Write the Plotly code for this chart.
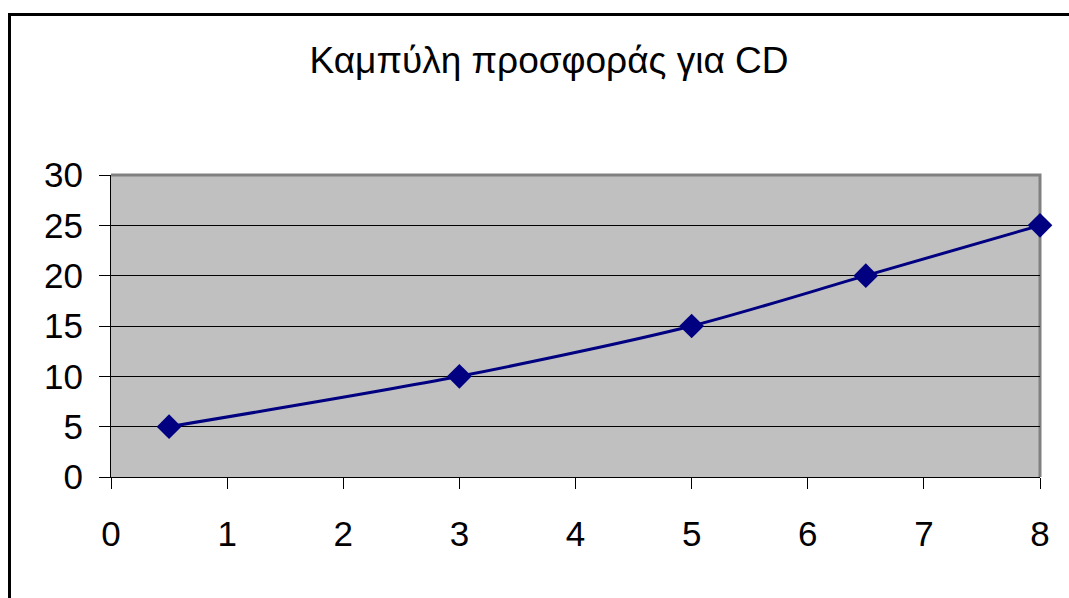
import plotly.graph_objects as go

# Supply curve for CD: quantity (x) vs price (y)
quantity = [0.5, 3, 5, 6.5, 8]
price = [5, 10, 15, 20, 25]
title_text = "Καμπύλη προσφοράς για CD"

W, H = 1069, 598
L, R, T, B = 111, 29, 175, 121
pw, ph = W - L - R, H - T - B

def px_x(v):
    return (v - L) / pw

def px_y(v):
    return (H - B - v) / ph

fig = go.Figure()
fig.add_trace(go.Scatter(
    x=quantity, y=price,
    mode="lines+markers",
    line=dict(color="#000080", width=3, shape="spline", smoothing=0.8),
    marker=dict(symbol="diamond", size=19, color="#000080"),
    cliponaxis=False,
    showlegend=False,
))

font = "Liberation Sans, Arial, sans-serif"
fig.update_layout(
    width=W, height=H,
    margin=dict(l=L, r=R, t=T, b=B),
    paper_bgcolor="white",
    plot_bgcolor="#c0c0c0",
    title=dict(text=title_text, x=px_x(549), xanchor="center", xref="paper",
               y=1 - 60 / H, yanchor="middle",
               font=dict(family=font, size=37, color="black")),
    xaxis=dict(range=[0, 8], dtick=1, tick0=0, showgrid=False, zeroline=False,
               showline=True, linecolor="black", linewidth=1,
               ticks="outside", ticklen=11, tickcolor="black", tickwidth=1,
               ticklabelstandoff=15,
               tickfont=dict(family=font, size=35, color="black")),
    yaxis=dict(range=[0, 30], dtick=5, tick0=0, showgrid=True, gridcolor="black",
               gridwidth=1, zeroline=False,
               showline=True, linecolor="black", linewidth=1,
               ticks="outside", ticklen=11, tickcolor="black", tickwidth=1,
               ticklabelstandoff=9,
               tickfont=dict(family=font, size=35, color="black")),
    shapes=[
        # grey plot-area border (top and right)
        dict(type="path", xref="paper", yref="paper",
             path="M 0,1 L 1,1 L 1,0", line=dict(color="#808080", width=3),
             layer="below"),
        # outer chart frame
        dict(type="rect", xref="paper", yref="paper",
             x0=px_x(9.5), y0=px_y(610), x1=px_x(1090), y1=px_y(14.5),
             line=dict(color="black", width=3), fillcolor="rgba(0,0,0,0)"),
    ],
)

fig.write_html("out.html")
